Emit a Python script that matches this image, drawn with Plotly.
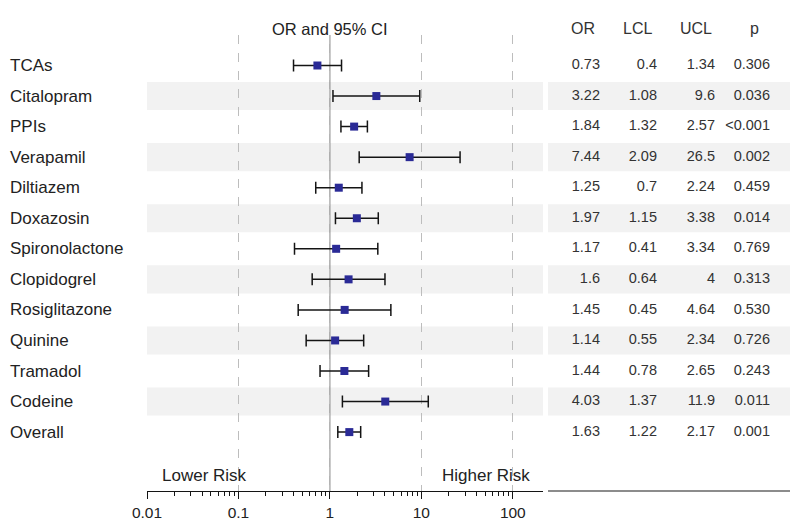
import plotly.graph_objects as go

# forest plot data
drugs = ["TCAs", "Citalopram", "PPIs", "Verapamil", "Diltiazem", "Doxazosin",
         "Spironolactone", "Clopidogrel", "Rosiglitazone", "Quinine", "Tramadol",
         "Codeine", "Overall"]
odds = [0.73, 3.22, 1.84, 7.44, 1.25, 1.97, 1.17, 1.6, 1.45, 1.14, 1.44, 4.03, 1.63]
lcl = [0.4, 1.08, 1.32, 2.09, 0.7, 1.15, 0.41, 0.64, 0.45, 0.55, 0.78, 1.37, 1.22]
ucl = [1.34, 9.6, 2.57, 26.5, 2.24, 3.38, 3.34, 4, 4.64, 2.34, 2.65, 11.9, 2.17]
pvals = ["0.306", "0.036", "<0.001", "0.002", "0.459", "0.014", "0.769",
         "0.313", "0.530", "0.726", "0.243", "0.011", "0.001"]

tick_vals = [0.01, 0.1, 1, 10, 100]
tick_text = ["0.01", "0.1", "1", "10", "100"]
table_headers = ["OR", "LCL", "UCL", "p"]

FONT = "Liberation Sans, Arial, sans-serif"
W, H = 800, 528
TOP, BOTTOM = 35, 37          # plot area from y=35 to y=491
ROW0, ROW_STEP = 65.5, 30.55  # pixel centre of first row, spacing

rows = list(range(len(drugs)))


def px_to_row(py):
    return (py - ROW0) / ROW_STEP


fig = go.Figure()

fig.add_trace(go.Scatter(
    x=odds, y=rows, mode="markers",
    marker=dict(symbol="square", size=8, color="#2a2a96"),
    error_x=dict(type="data", symmetric=False,
                 array=[u - o for u, o in zip(ucl, odds)],
                 arrayminus=[o - l for o, l in zip(odds, lcl)],
                 color="#141414", thickness=1.5, width=6),
    hoverinfo="skip", showlegend=False, cliponaxis=False,
))

# table columns as text traces on a second axis (right aligned at column edge)
col_right = [600, 657, 715, 770]
col_head = [582.5, 637.5, 695.5, 754]
columns = [[f"{v:g}" for v in odds], [f"{v:g}" for v in lcl],
           [f"{v:g}" for v in ucl], pvals]
for cx, texts in zip(col_right, columns):
    fig.add_trace(go.Scatter(
        x=[cx] * len(texts), y=rows, text=texts, mode="text",
        textposition="middle left",
        textfont=dict(family=FONT, size=14.5, color="#333333"),
        xaxis="x2", yaxis="y", hoverinfo="skip", showlegend=False,
        cliponaxis=False,
    ))

shapes = []
# alternating row shading
for i in rows:
    if i % 2 == 1:
        shapes.append(dict(type="rect", xref="x domain", x0=0, x1=1,
                           yref="y", y0=i - 0.46, y1=i + 0.46,
                           fillcolor="#f2f2f2", line_width=0, layer="below"))
        shapes.append(dict(type="rect", xref="x2 domain", x0=0, x1=1,
                           yref="y", y0=i - 0.46, y1=i + 0.46,
                           fillcolor="#f2f2f2", line_width=0, layer="below"))
# reference line at OR = 1
shapes.append(dict(type="line", xref="x", x0=1, x1=1, yref="paper", y0=0, y1=1,
                   line=dict(color="#7f7f7f", width=1), layer="between"))
# table bottom rule
shapes.append(dict(type="line", xref="x2 domain", x0=0, x1=1, yref="paper", y0=0, y1=0,
                   line=dict(color="#1a1a1a", width=1.2)))

annotations = []
for i, name in zip(rows, drugs):
    annotations.append(dict(x=8 / W, xref="paper", y=i, yref="y", text=name,
                            xanchor="left", showarrow=False,
                            font=dict(family=FONT, size=17, color="#222222")))
head_y = (H - BOTTOM - 18) / (H - TOP - BOTTOM)
# annotation x on a log axis is given in log10 units: 0 -> OR of 1
annotations.append(dict(x=0, xref="x", y=head_y, yref="paper", text="OR and 95% CI",
                        xanchor="center", showarrow=False,
                        font=dict(family=FONT, size=16.5, color="#222222")))
for cx, name in zip(col_head, table_headers):
    annotations.append(dict(x=cx / W, xref="paper", y=head_y, yref="paper", text=name,
                            xanchor="center", showarrow=False,
                            font=dict(family=FONT, size=16, color="#333333")))
annotations.append(dict(x=160 / W, xref="paper", y=px_to_row(475), yref="y",
                        text="Lower Risk", xanchor="left", showarrow=False,
                        font=dict(family=FONT, size=17, color="#222222")))
annotations.append(dict(x=532 / W, xref="paper", y=px_to_row(475), yref="y",
                        text="Higher Risk", xanchor="right", showarrow=False,
                        font=dict(family=FONT, size=17, color="#222222")))

minor_vals = [m * 10 ** e for e in range(-2, 2) for m in range(2, 10)]

fig.update_layout(
    width=W, height=H,
    margin=dict(l=0, r=0, t=TOP, b=BOTTOM, autoexpand=False),
    paper_bgcolor="white", plot_bgcolor="white",
    font=dict(family=FONT, color="#222222"),
    xaxis=dict(type="log", domain=[147 / W, 543 / W], range=[-2, 2.33],
               tickmode="array", tickvals=tick_vals, ticktext=tick_text,
               showgrid=True, gridcolor="#bdbdbd", griddash="dash", gridwidth=1,
               showline=True, linecolor="#141414", linewidth=1.3,
               ticks="outside", ticklen=7, tickwidth=1.3, tickcolor="#141414",
               tickfont=dict(size=15.5, color="#222222"),
               minor=dict(tickmode="array", tickvals=minor_vals, ticks="outside",
                          ticklen=4, tickwidth=1.2, tickcolor="#141414", showgrid=False),
               zeroline=False, fixedrange=True, automargin=False),
    xaxis2=dict(domain=[548 / W, 790 / W], range=[548, 790],
                showgrid=False, showticklabels=False, zeroline=False,
                anchor="y", fixedrange=True, automargin=False),
    yaxis=dict(range=[px_to_row(H - BOTTOM), px_to_row(TOP)],
               showgrid=False, showticklabels=False, zeroline=False,
               fixedrange=True, automargin=False),
    shapes=shapes, annotations=annotations,
)

# page body has a default 8px margin; drop it so the figure sits at the window origin
fig.write_html("out.html", config={"displayModeBar": False},
               post_script="document.body.style.margin='0';")
